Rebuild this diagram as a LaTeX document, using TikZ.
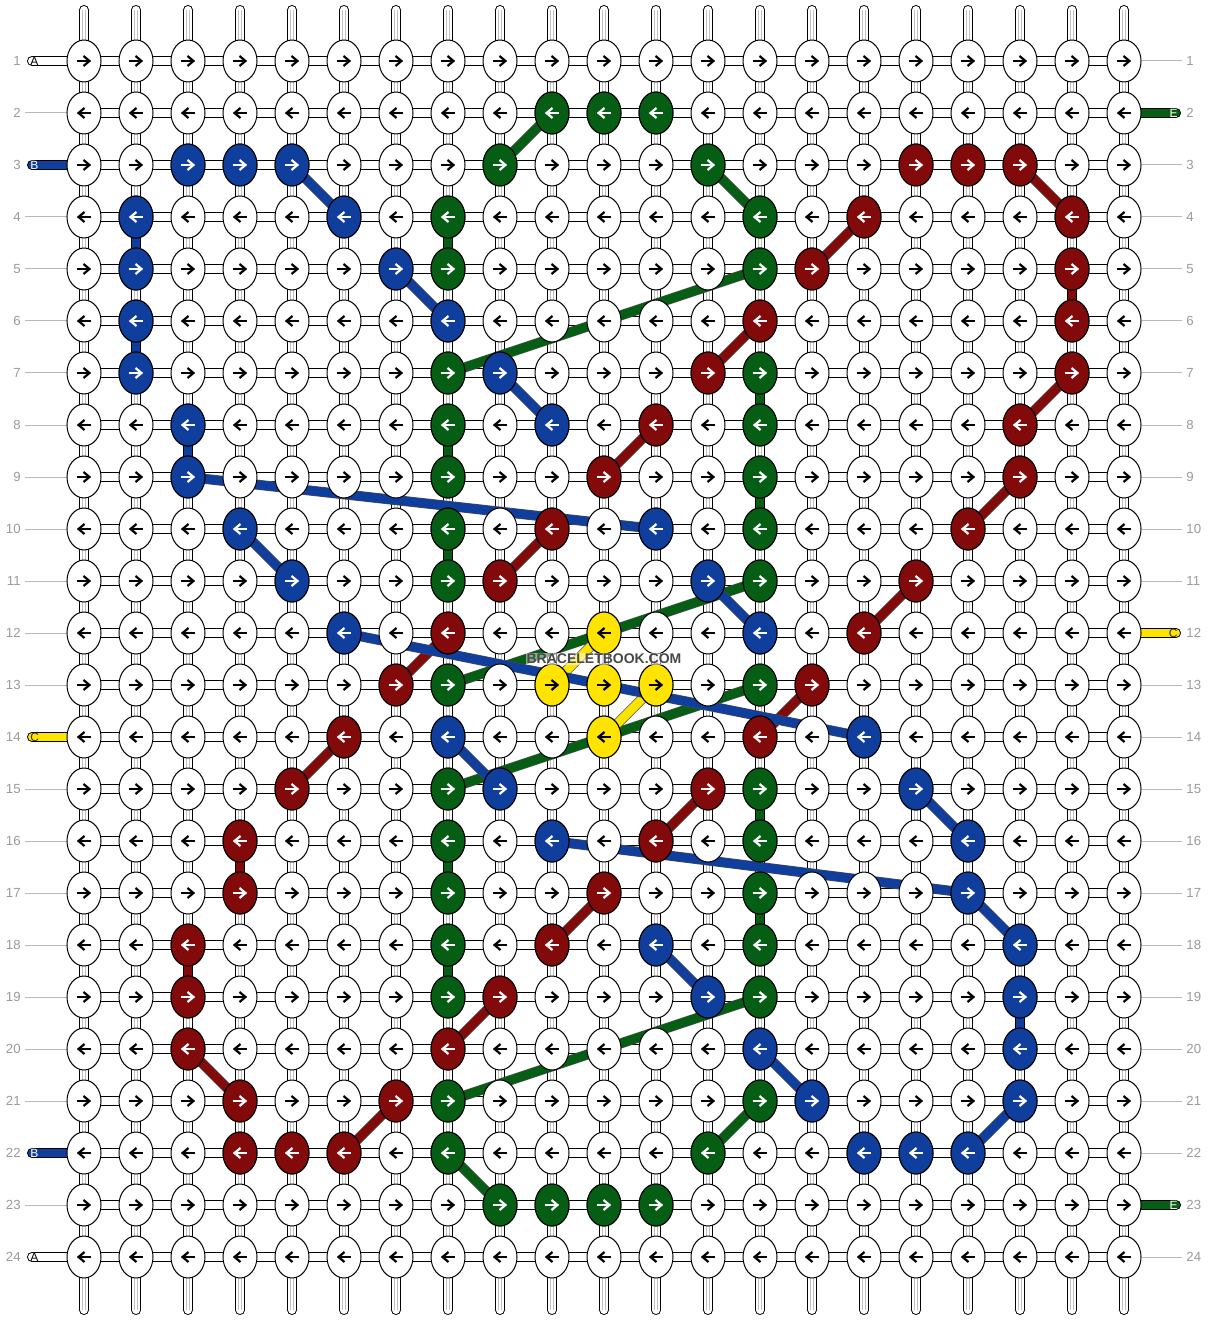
\documentclass[tikz,border=0pt]{standalone}
\usepackage{fontspec}
\setmainfont{Liberation Sans}
\usetikzlibrary{arrows.meta,shapes.geometric}

\definecolor{kblue}{HTML}{103E9C}
\definecolor{kgreen}{HTML}{065E14}
\definecolor{kred}{HTML}{820A0A}
\definecolor{kyellow}{HTML}{FFE400}
\definecolor{numgray}{HTML}{9A9A9A}

\pgfdeclarelayer{strands}
\pgfdeclarelayer{threads}
\pgfsetlayers{strands,threads,main}

\tikzset{
  knot/.style={ellipse,draw=black,line width=0.5pt,fill=white,
    minimum width=17pt,minimum height=21pt,inner sep=0pt},
  arr/.style={line width=1.1pt,-{Straight Barb[length=3pt,width=5pt]}},
  strandv/.style={draw=black,line width=0.5pt,double=white,double distance=4pt,line cap=round},
  strandh/.style={draw=black,line width=0.5pt,double=white,double distance=4pt},
  strandline/.style={draw=black!25,line width=0.4pt},
  vlink/.style={draw=black,line width=0.5pt,double=#1,double distance=4pt},
  dlink/.style={draw=black!70,line width=0.3pt,double=#1,double distance=4.4pt},
  rownum/.style={text=numgray,font=\fontsize{6.6pt}{7pt}\selectfont,inner sep=2pt},
  endlab/.style={font=\fontsize{6pt}{7pt}\selectfont,inner sep=0pt},
  rowline/.style={draw=numgray!70,line width=0.5pt}
}

% coloured knot over the white one at (k-\r-\c)
\newcommand{\colknot}[2]{%
  \pgfmathsetmacro\tipx{isodd(\r)?3.6:-3.6}%
  \pgfmathsetmacro\tailx{-\tipx}%
  \draw[fill=#1,line width=0.5pt] (k-\r-\c.center) ellipse (17 and 21);
  \draw[arr,#2] ([xshift=\tailx pt]k-\r-\c.center) -- ([xshift=\tipx pt]k-\r-\c.center);}

\begin{document}
\begin{tikzpicture}[x=0.5pt,y=-0.5pt]
\useasboundingbox (0,0) rectangle (1208,1320);

% knots
\foreach \r in {1,...,24}{
  \foreach \c in {1,...,21}{
    \node[knot] (k-\r-\c) at ({84+52*(\c-1)},{61+52*(\r-1)}) {};
  }
}
\foreach \r in {1,...,24}{
  \pgfmathsetmacro\tipx{isodd(\r)?3.6:-3.6}
  \pgfmathsetmacro\tailx{-\tipx}
  \foreach \c in {1,...,21}{
    \draw[arr] ([xshift=\tailx pt]k-\r-\c.center) -- ([xshift=\tipx pt]k-\r-\c.center);
  }
}

% blue knots
\foreach \r/\c in {3/3,3/4,3/5,4/2,4/6,5/2,5/7,6/2,6/8,7/2,7/9,8/3,8/10,9/3,
  10/4,10/12,11/5,11/13,12/6,12/14,14/8,14/16,15/9,15/17,16/10,16/18,17/18,
  18/12,18/19,19/13,19/19,20/14,20/19,21/15,21/19,22/16,22/17,22/18}
  {\colknot{kblue}{white}}
% green knots
\foreach \r/\c in {2/10,2/11,2/12,3/9,3/13,4/8,4/14,5/8,5/14,7/8,7/14,8/8,8/14,
  9/8,9/14,10/8,10/14,11/8,11/14,13/8,13/14,15/8,15/14,16/8,16/14,17/8,17/14,
  18/8,18/14,19/8,19/14,21/8,21/14,22/8,22/13,23/9,23/10,23/11,23/12}
  {\colknot{kgreen}{white}}
% red knots
\foreach \r/\c in {3/17,3/18,3/19,4/16,4/20,5/15,5/20,6/14,6/20,7/13,7/20,8/12,
  8/19,9/11,9/19,10/10,10/18,11/9,11/17,12/8,12/16,13/7,13/15,14/6,14/14,15/5,
  15/13,16/4,16/12,17/4,17/11,18/3,18/10,19/3,19/9,20/3,20/8,21/4,21/7,22/4,
  22/5,22/6}
  {\colknot{kred}{white}}
% yellow knots
\foreach \r/\c in {12/11,13/10,13/11,13/12,14/11}
  {\colknot{kyellow}{black}}

\begin{pgfonlayer}{threads}
% straight links
\foreach \ra/\ca/\rb/\cb in {4/2/5/2,6/2/7/2,8/3/9/3,19/19/20/19}
  \draw[vlink=kblue] (k-\ra-\ca.center) -- (k-\rb-\cb.center);
\foreach \ra/\ca/\rb/\cb in {4/8/5/8,8/8/9/8,10/8/11/8,16/8/17/8,18/8/19/8,
  7/14/8/14,9/14/10/14,15/14/16/14,17/14/18/14}
  \draw[vlink=kgreen] (k-\ra-\ca.center) -- (k-\rb-\cb.center);
\foreach \ra/\ca/\rb/\cb in {5/20/6/20,16/4/17/4,18/3/19/3}
  \draw[vlink=kred] (k-\ra-\ca.center) -- (k-\rb-\cb.center);
% carried threads
\foreach \ra/\ca/\rb/\cb in {2/10/3/9,3/13/4/14,5/14/7/8,11/14/13/8,13/14/15/8,
  19/14/21/8,21/14/22/13,22/8/23/9}
  \draw[dlink=kgreen] (k-\ra-\ca.center) -- (k-\rb-\cb.center);
\foreach \ra/\ca/\rb/\cb in {3/19/4/20,4/16/5/15,6/14/7/13,7/20/8/19,8/12/9/11,
  9/19/10/18,10/10/11/9,11/17/12/16,12/8/13/7,13/15/14/14,14/6/15/5,15/13/16/12,
  17/11/18/10,19/9/20/8,20/3/21/4,21/7/22/6}
  \draw[dlink=kred] (k-\ra-\ca.center) -- (k-\rb-\cb.center);
\foreach \ra/\ca/\rb/\cb in {12/11/13/10,13/12/14/11}
  \draw[dlink=kyellow] (k-\ra-\ca.center) -- (k-\rb-\cb.center);
\foreach \ra/\ca/\rb/\cb in {3/5/4/6,5/7/6/8,7/9/8/10,9/3/10/12,10/4/11/5,
  11/13/12/14,12/6/14/16,14/8/15/9,15/17/16/18,16/10/17/18,17/18/18/19,
  18/12/19/13,20/14/21/15,21/19/22/18}
  \draw[dlink=kblue] (k-\ra-\ca.center) -- (k-\rb-\cb.center);
\end{pgfonlayer}

\begin{pgfonlayer}{strands}
% vertical strands
\foreach \c in {1,...,21}{
  \coordinate (top-\c) at ({84+52*(\c-1)},10);
  \coordinate (bot-\c) at ({84+52*(\c-1)},1310);
  \draw[strandv] (top-\c) -- (bot-\c);
  \draw[strandline] ([xshift=-0.85pt]top-\c) -- ([xshift=-0.85pt]bot-\c);
  \draw[strandline] ([xshift=0.85pt]top-\c) -- ([xshift=0.85pt]bot-\c);
}
% horizontal strands and row numbers
\foreach \r in {1,...,24}{
  \draw[strandh] (k-\r-1.center) -- (k-\r-21.center);
  \node[rownum,anchor=east] (nl-\r) at (25,{61+52*(\r-1)}) {\r};
  \node[rownum,anchor=west] (nr-\r) at (1182,{61+52*(\r-1)}) {\r};
}
\foreach \r in {2,4,5,6,7,8,9,10,11,12,13,15,16,17,18,19,20,21,23}
  \draw[rowline] (nl-\r) -- (k-\r-1);
\foreach \r in {1,3,4,5,6,7,8,9,10,11,13,14,15,16,17,18,19,20,21,22,24}
  \draw[rowline] (k-\r-21) -- (nr-\r);
% thread ends
\foreach \r/\col/\lab/\ink in {1/white/A/black,3/kblue/B/white,14/kyellow/C/black!80,
  22/kblue/B/white,24/white/A/black}{
  \coordinate (el-\r) at (32,{61+52*(\r-1)});
  \draw[strandh,double=\col,line cap=round] (k-\r-1.center) -- (el-\r);
  \node[endlab,text=\ink,anchor=west] (tl-\r) at (30,{61+52*(\r-1)}) {\lab};
}
\foreach \r/\col/\lab/\ink in {2/kgreen/E/white,12/kyellow/C/black!80,23/kgreen/E/white}{
  \coordinate (er-\r) at (1176,{61+52*(\r-1)});
  \draw[strandh,double=\col,line cap=round] (k-\r-21.center) -- (er-\r);
  \node[endlab,text=\ink,anchor=east] (tr-\r) at (1178,{61+52*(\r-1)}) {\lab};
}
\end{pgfonlayer}

\node[font=\fontsize{7pt}{8pt}\selectfont\bfseries,text=black!72,fill=white,
  fill opacity=0.5,text opacity=1,inner sep=0.5pt] (mark) at (604,659) {BRACELETBOOK.COM};
\end{tikzpicture}
\end{document}
